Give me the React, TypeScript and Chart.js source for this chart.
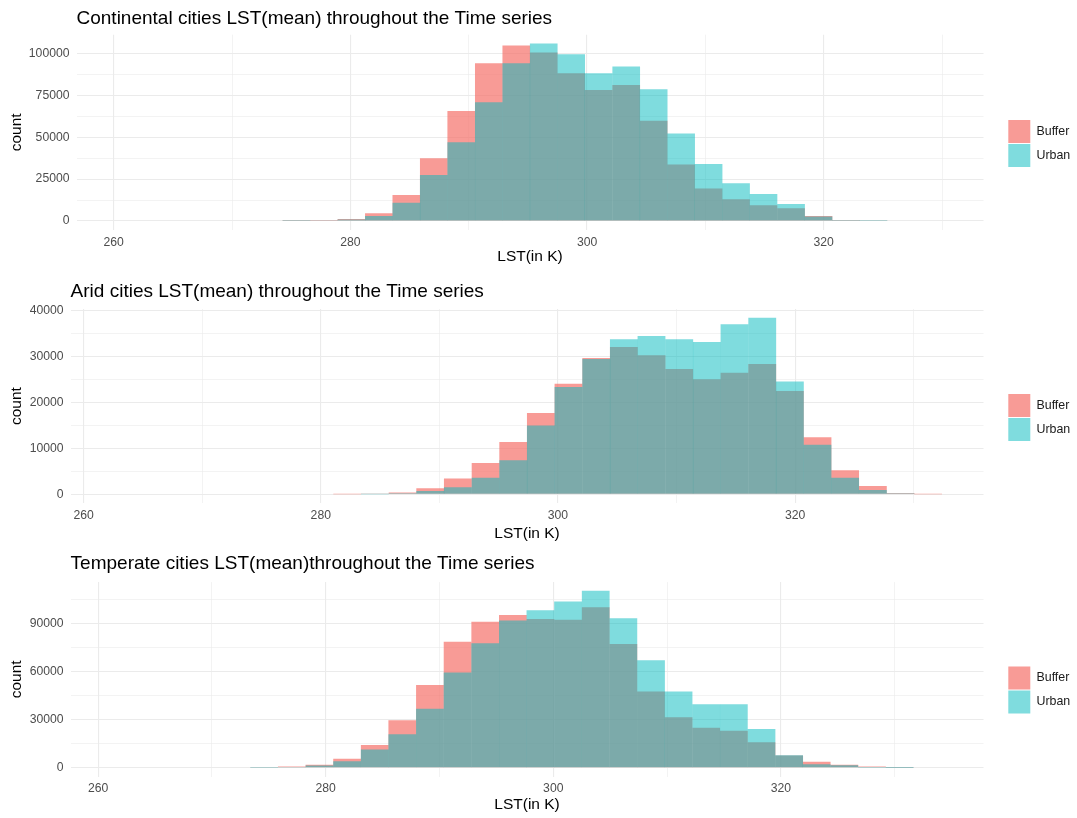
import React, { useEffect, useRef } from 'react';
import { Chart, registerables } from 'chart.js';

Chart.register(...registerables);

// ---------- Data ----------
// Panel 1: Continental
const contBins = [261.51, 263.83, 266.16, 268.48, 270.8, 273.12, 275.44, 277.77, 280.09, 282.41, 284.73, 287.05, 289.37, 291.7, 294.02, 296.34, 298.66, 300.98, 303.31, 305.63, 307.95, 310.27, 312.59, 314.91, 317.24, 319.56, 321.88, 324.2, 326.52, 328.85];
const contBuffer = [0, 0, 0, 0, 0, 0, 150, 600, 1200, 4600, 15500, 37400, 65600, 94000, 104600, 100400, 88100, 78100, 81100, 59800, 33600, 19300, 12900, 9300, 7500, 3000, 600, 200, 0, 0];
const contUrban = [0, 0, 0, 0, 0, 0, 100, 400, 800, 3000, 10900, 27400, 46900, 70800, 94000, 105800, 99400, 88100, 92000, 78500, 52100, 34000, 22500, 16100, 10100, 2700, 500, 100, 0, 0];

// Panel 2: Arid
const aridBins = [263.57, 265.9, 268.23, 270.57, 272.9, 275.23, 277.56, 279.9, 282.23, 284.56, 286.9, 289.23, 291.56, 293.9, 296.23, 298.56, 300.89, 303.23, 305.56, 307.89, 310.23, 312.56, 314.89, 317.23, 319.56, 321.89, 324.22, 326.56, 328.89, 331.22];
const aridBuffer = [0, 0, 0, 0, 0, 0, 0, 0, 50, 150, 360, 1300, 3400, 6800, 11400, 17700, 24100, 29700, 32100, 30300, 27300, 25100, 26500, 28400, 22500, 12400, 5200, 1800, 250, 50];
const aridUrban = [0, 0, 0, 0, 0, 0, 0, 0, 0, 50, 200, 700, 1500, 3600, 7400, 15000, 23400, 29500, 33800, 34500, 33800, 33200, 37100, 38500, 24600, 10800, 3600, 900, 200, 0];

// Panel 3: Temperate
const tempBins = [262.45, 264.88, 267.31, 269.74, 272.17, 274.59, 277.02, 279.45, 281.88, 284.31, 286.73, 289.16, 291.59, 294.02, 296.45, 298.87, 301.3, 303.73, 306.16, 308.59, 311.01, 313.44, 315.87, 318.3, 320.73, 323.15, 325.58, 328.01, 330.44, 332.87];
const tempBuffer = [0, 0, 0, 0, 0, 300, 600, 1700, 5500, 14100, 29500, 51500, 78500, 91000, 95200, 92700, 92100, 100000, 77100, 47400, 31400, 24900, 22900, 15800, 7500, 3700, 1700, 600, 100, 0];
const tempUrban = [0, 0, 0, 0, 0, 100, 400, 1300, 4000, 11200, 20800, 36600, 59200, 77500, 91700, 98100, 103500, 110200, 93100, 66900, 47400, 39500, 39500, 24100, 7700, 2100, 1500, 200, 50, 0];

// Tick values
const xMajorTicks = [260, 280, 300, 320];
const xMinorTicks = [270, 290, 310, 330];
const contYMajor = [0, 25000, 50000, 75000, 100000];
const contYMinor = [12500, 37500, 62500, 87500];
const aridYMajor = [0, 10000, 20000, 30000, 40000];
const aridYMinor = [5000, 15000, 25000, 35000];
const tempYMajor = [0, 30000, 60000, 90000];
const tempYMinor = [15000, 45000, 75000, 105000];

const seriesLabels = ['Buffer', 'Urban'];

// ---------- Styles ----------
const FONT = "'Liberation Sans', Arial, Helvetica, sans-serif";
const PINK = 'rgba(245,112,105,0.7)';
const TEAL = 'rgba(0,185,190,0.5)';
const GRID = '#EBEBEB';
const WIDTH = 1077;

interface PanelCfg {
  title: string;
  bins: number[];
  buffer: number[];
  urban: number[];
  yMajor: number[];
  yMinor: number[];
  xMin: number;
  xMax: number;
  top: number;
  height: number;
  left: number;
  titlePadTop: number;
  titlePadBottom: number;
  xAxisHeight: number;
  xTickPad: number;
  xTitlePadBottom: number;
}

const panels: PanelCfg[] = [
  {
    title: 'Continental cities LST(mean) throughout the Time series',
    bins: contBins, buffer: contBuffer, urban: contUrban,
    yMajor: contYMajor, yMinor: contYMinor,
    xMin: 256.86, xMax: 333.5,
    top: 0, height: 287, left: 76.5,
    titlePadTop: 6.9, titlePadBottom: 5.0,
    xAxisHeight: 57.1, xTickPad: 5.5, xTitlePadBottom: 21,
  },
  {
    title: 'Arid cities LST(mean) throughout the Time series',
    bins: aridBins, buffer: aridBuffer, urban: aridUrban,
    yMajor: aridYMajor, yMinor: aridYMinor,
    xMin: 258.9, xMax: 335.89,
    top: 272, height: 291, left: 70.6,
    titlePadTop: 8.3, titlePadBottom: 5.9,
    xAxisHeight: 59.9, xTickPad: 5.3, xTitlePadBottom: 20.4,
  },
  {
    title: 'Temperate cities LST(mean)throughout the Time series',
    bins: tempBins, buffer: tempBuffer, urban: tempUrban,
    yMajor: tempYMajor, yMinor: tempYMinor,
    xMin: 257.58, xMax: 337.81,
    top: 545, height: 290, left: 70.6,
    titlePadTop: 6.9, titlePadBottom: 7.4,
    xAxisHeight: 58.5, xTickPad: 4.5, xTitlePadBottom: 20.7,
  },
];

function Panel({ cfg }: { cfg: PanelCfg }) {
  const ref = useRef<HTMLCanvasElement | null>(null);

  useEffect(() => {
    if (!ref.current) return;
    const maxCount = Math.max(...cfg.buffer, ...cfg.urban);
    const yMin = -0.05 * maxCount;
    const yMax = 1.05 * maxCount;
    const xTicks = [...xMajorTicks, ...xMinorTicks].sort((a, b) => a - b);
    const yTicks = [...cfg.yMajor, ...cfg.yMinor].sort((a, b) => a - b);

    const barCommon = {
      borderWidth: 0,
      grouped: false,
      barPercentage: 1,
      categoryPercentage: 1,
      inflateAmount: 0.1,
      xAxisID: 'x',
      yAxisID: 'y',
    };

    // empty bins are left out (null) so that nothing is drawn for them
    const toPoints = (counts: number[]) =>
      cfg.bins.map((x, i) => ({ x, y: counts[i] === 0 ? null : counts[i] }));

    const chart = new Chart(ref.current, {
      type: 'bar',
      data: {
        datasets: [
          {
            ...barCommon,
            label: seriesLabels[0],
            data: toPoints(cfg.buffer),
            backgroundColor: PINK,
            order: 1,
          } as any,
          {
            ...barCommon,
            label: seriesLabels[1],
            data: toPoints(cfg.urban),
            backgroundColor: TEAL,
            order: 0,
          } as any,
        ],
      },
      options: {
        responsive: false,
        maintainAspectRatio: false,
        animation: false,
        events: [],
        layout: { padding: { left: 0, right: 0, top: 0, bottom: 0 } },
        plugins: {
          title: {
            display: true,
            text: cfg.title,
            align: 'start',
            fullSize: false,
            color: '#000000',
            font: { family: FONT, size: 19, weight: 'normal', lineHeight: 1.2 },
            padding: { top: cfg.titlePadTop, bottom: cfg.titlePadBottom },
          },
          legend: {
            position: 'right',
            align: 'center',
            maxWidth: 69.7,
            labels: {
              boxWidth: 22,
              boxHeight: 23,
              padding: 1,
              color: '#1a1a1a',
              font: { family: FONT, size: 12.4 },
              sort: (a: any, b: any) => a.datasetIndex - b.datasetIndex,
            },
          },
          tooltip: { enabled: false },
        },
        scales: {
          x: {
            type: 'linear',
            position: 'bottom',
            min: cfg.xMin,
            max: cfg.xMax,
            offset: false,
            grid: {
              offset: false,
              drawTicks: false,
              color: GRID,
              lineWidth: (c: any) => (xMajorTicks.includes(c.tick?.value) ? 1.1 : 0.6),
            },
            border: { display: false },
            ticks: {
              autoSkip: false,
              maxRotation: 0,
              minRotation: 0,
              padding: cfg.xTickPad,
              color: '#4D4D4D',
              font: { family: FONT, size: 12.2 },
              callback: (v: any) => (xMajorTicks.includes(Number(v)) ? String(v) : ''),
            },
            afterBuildTicks: (s: any) => {
              s.ticks = xTicks.map((v) => ({ value: v }));
            },
            afterFit: (s: any) => {
              s.height = cfg.xAxisHeight;
            },
            title: {
              display: true,
              text: 'LST(in K)',
              color: '#000000',
              font: { family: FONT, size: 15.5, lineHeight: 1.2 },
              padding: { top: 0, bottom: cfg.xTitlePadBottom },
            },
          },
          y: {
            type: 'linear',
            position: 'left',
            min: yMin,
            max: yMax,
            grid: {
              drawTicks: false,
              color: GRID,
              lineWidth: (c: any) => (cfg.yMajor.includes(c.tick?.value) ? 1.1 : 0.6),
            },
            border: { display: false },
            ticks: {
              autoSkip: false,
              padding: 7,
              color: '#4D4D4D',
              font: { family: FONT, size: 12.2 },
              callback: (v: any) => (cfg.yMajor.includes(Number(v)) ? String(v) : ''),
            },
            afterBuildTicks: (s: any) => {
              s.ticks = yTicks.map((v) => ({ value: v }));
            },
            afterFit: (s: any) => {
              s.width = cfg.left;
            },
            title: {
              display: true,
              text: 'count',
              color: '#000000',
              font: { family: FONT, size: 15.5, lineHeight: 1.2 },
              padding: { top: 7.9, bottom: 0 },
            },
          },
          gap: {
            type: 'linear',
            position: 'right',
            display: true,
            grid: { display: false, drawTicks: false },
            border: { display: false },
            ticks: { display: false },
            afterFit: (s: any) => {
              s.width = 23.8;
            },
          },
        },
      } as any,
    });
    return () => chart.destroy();
  }, [cfg]);

  return (
    <canvas
      ref={ref}
      width={WIDTH}
      height={cfg.height}
      style={{ position: 'absolute', left: 0, top: cfg.top, width: WIDTH, height: cfg.height }}
    />
  );
}

export default function App() {
  return (
    <div
      style={{
        position: 'relative',
        width: WIDTH,
        height: 818,
        overflow: 'hidden',
        background: '#ffffff',
      }}
    >
      <style>{'html,body{margin:0;padding:0;overflow:hidden;background:#fff;}'}</style>
      {panels.map((p, i) => (
        <Panel key={i} cfg={p} />
      ))}
    </div>
  );
}
